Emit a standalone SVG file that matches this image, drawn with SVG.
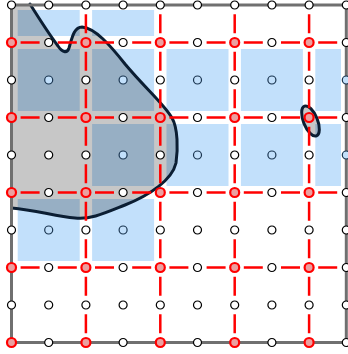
<svg xmlns="http://www.w3.org/2000/svg" width="348" height="354" viewBox="0 0 348 354">
<style>
.sq{fill:#c2e0fb}
.red{stroke:#ff0000;stroke-width:2.5;fill:none}
.rv{stroke-dasharray:19,18.5;stroke-dashoffset:28.25}
.rh{stroke-dasharray:19,18.2;stroke-dashoffset:28.1}
.pt{fill:#ffffff;stroke:#000000;stroke-width:1.2}
.bp{fill:#c2e0fb;stroke:#1a3550;stroke-width:1.2}
.rp{fill:#eba0a0;stroke:#ff0000;stroke-width:2.2}
.curve{fill:none;stroke:#0b1e33;stroke-width:3;stroke-linecap:round}
.shade{fill:#000000;fill-opacity:0.22;stroke:none}
</style>
<defs>
<clipPath id="plot"><rect x="11.5" y="10" width="329.5" height="332.5"/></clipPath>
<g id="w"><circle r="4" class="pt"/></g>
</defs>
<rect width="348" height="354" fill="#ffffff"/>
<g id="squares" clip-path="url(#plot)">
<rect class="sq" x="17.7" y="-26" width="62" height="62"/>
<rect class="sq" x="92.1" y="-26" width="62" height="62"/>
<rect class="sq" x="17.7" y="49" width="62" height="62"/>
<rect class="sq" x="92.1" y="49" width="62" height="62"/>
<rect class="sq" x="166.5" y="49" width="62" height="62"/>
<rect class="sq" x="240.9" y="49" width="62" height="62"/>
<rect class="sq" x="315.3" y="49" width="62" height="62"/>
<rect class="sq" x="92.1" y="124" width="62" height="62"/>
<rect class="sq" x="166.5" y="124" width="62" height="62"/>
<rect class="sq" x="240.9" y="124" width="62" height="62"/>
<rect class="sq" x="315.3" y="124" width="62" height="62"/>
<rect class="sq" x="17.7" y="199" width="62" height="62"/>
<rect class="sq" x="92.1" y="199" width="62" height="62"/>
</g>
<g id="region">
<path class="shade" d="M30 4 C40 20 52 38 58 46 C62 52 67 54 69 48 C72 38 74 27 82 27 C95 28 110 45 125 64 C145 88 165 105 172 118 C178 128 178 150 176 163 C172 180 150 195 125 205 C105 213 90 220 75 218 C55 216 35 210 11.5 208 L11.5 4 Z"/>
<path class="curve" d="M30 4 C40 20 52 38 58 46 C62 52 67 54 69 48 C72 38 74 27 82 27 C95 28 110 45 125 64 C145 88 165 105 172 118 C178 128 178 150 176 163 C172 180 150 195 125 205 C105 213 90 220 75 218 C55 216 35 210 11.5 208"/>
<ellipse class="shade" cx="310.5" cy="121" rx="7" ry="16" transform="rotate(-22 310.5 121)"/>
<ellipse class="curve" cx="310.5" cy="121" rx="7" ry="16" transform="rotate(-22 310.5 121)"/>
</g>
<g id="connectors">
<path class="red rh" d="M11.5 42.5H346.3M11.5 117.5H346.3M11.5 192.5H346.3M11.5 267.5H346.3"/>
<path class="red rv" d="M85.9 5V342.5M160.3 5V342.5M234.7 5V342.5M309.1 5V342.5"/>
<rect x="11.5" y="5" width="334.8" height="337.5" fill="none" stroke="#707070" stroke-width="3"/>
</g>
<g id="points">
<g id="row0"><use href="#w" x="11.5" y="5"/><use href="#w" x="48.7" y="5"/><use href="#w" x="85.9" y="5"/><use href="#w" x="123.1" y="5"/><use href="#w" x="160.3" y="5"/><use href="#w" x="197.5" y="5"/><use href="#w" x="234.7" y="5"/><use href="#w" x="271.9" y="5"/><use href="#w" x="309.1" y="5"/><use href="#w" x="346.3" y="5"/></g>
<g id="row2"><use href="#w" x="11.5" y="80"/><circle class="bp" cx="48.7" cy="80" r="4"/><use href="#w" x="85.9" y="80"/><circle class="bp" cx="123.1" cy="80" r="4"/><use href="#w" x="160.3" y="80"/><circle class="bp" cx="197.5" cy="80" r="4"/><use href="#w" x="234.7" y="80"/><circle class="bp" cx="271.9" cy="80" r="4"/><use href="#w" x="309.1" y="80"/><circle class="bp" cx="346.3" cy="80" r="4"/></g>
<g id="row4"><use href="#w" x="11.5" y="155"/><use href="#w" x="48.7" y="155"/><use href="#w" x="85.9" y="155"/><circle class="bp" cx="123.1" cy="155" r="4"/><use href="#w" x="160.3" y="155"/><circle class="bp" cx="197.5" cy="155" r="4"/><use href="#w" x="234.7" y="155"/><circle class="bp" cx="271.9" cy="155" r="4"/><use href="#w" x="309.1" y="155"/><circle class="bp" cx="346.3" cy="155" r="4"/></g>
<g id="row6"><use href="#w" x="11.5" y="230"/><circle class="bp" cx="48.7" cy="230" r="4"/><use href="#w" x="85.9" y="230"/><circle class="bp" cx="123.1" cy="230" r="4"/><use href="#w" x="160.3" y="230"/><use href="#w" x="197.5" y="230"/><use href="#w" x="234.7" y="230"/><use href="#w" x="271.9" y="230"/><use href="#w" x="309.1" y="230"/><use href="#w" x="346.3" y="230"/></g>
<g id="row8"><use href="#w" x="11.5" y="305"/><use href="#w" x="48.7" y="305"/><use href="#w" x="85.9" y="305"/><use href="#w" x="123.1" y="305"/><use href="#w" x="160.3" y="305"/><use href="#w" x="197.5" y="305"/><use href="#w" x="234.7" y="305"/><use href="#w" x="271.9" y="305"/><use href="#w" x="309.1" y="305"/><use href="#w" x="346.3" y="305"/></g>
<g id="oddrows">
<circle class="rp" cx="11.5" cy="42.5" r="4.5"/><use href="#w" x="48.7" y="42.5"/><circle class="rp" cx="85.9" cy="42.5" r="4.5"/><use href="#w" x="123.1" y="42.5"/><circle class="rp" cx="160.3" cy="42.5" r="4.5"/><use href="#w" x="197.5" y="42.5"/><circle class="rp" cx="234.7" cy="42.5" r="4.5"/><use href="#w" x="271.9" y="42.5"/><circle class="rp" cx="309.1" cy="42.5" r="4.5"/><use href="#w" x="346.3" y="42.5"/>
<circle class="rp" cx="11.5" cy="117.5" r="4.5"/><use href="#w" x="48.7" y="117.5"/><circle class="rp" cx="85.9" cy="117.5" r="4.5"/><use href="#w" x="123.1" y="117.5"/><circle class="rp" cx="160.3" cy="117.5" r="4.5"/><use href="#w" x="197.5" y="117.5"/><circle class="rp" cx="234.7" cy="117.5" r="4.5"/><use href="#w" x="271.9" y="117.5"/><circle class="rp" cx="309.1" cy="117.5" r="4.5"/><use href="#w" x="346.3" y="117.5"/>
<circle class="rp" cx="11.5" cy="192.5" r="4.5"/><use href="#w" x="48.7" y="192.5"/><circle class="rp" cx="85.9" cy="192.5" r="4.5"/><use href="#w" x="123.1" y="192.5"/><circle class="rp" cx="160.3" cy="192.5" r="4.5"/><use href="#w" x="197.5" y="192.5"/><circle class="rp" cx="234.7" cy="192.5" r="4.5"/><use href="#w" x="271.9" y="192.5"/><circle class="rp" cx="309.1" cy="192.5" r="4.5"/><use href="#w" x="346.3" y="192.5"/>
<circle class="rp" cx="11.5" cy="267.5" r="4.5"/><use href="#w" x="48.7" y="267.5"/><circle class="rp" cx="85.9" cy="267.5" r="4.5"/><use href="#w" x="123.1" y="267.5"/><circle class="rp" cx="160.3" cy="267.5" r="4.5"/><use href="#w" x="197.5" y="267.5"/><circle class="rp" cx="234.7" cy="267.5" r="4.5"/><use href="#w" x="271.9" y="267.5"/><circle class="rp" cx="309.1" cy="267.5" r="4.5"/><use href="#w" x="346.3" y="267.5"/>
<circle class="rp" cx="11.5" cy="342.5" r="4.5"/><use href="#w" x="48.7" y="342.5"/><circle class="rp" cx="85.9" cy="342.5" r="4.5"/><use href="#w" x="123.1" y="342.5"/><circle class="rp" cx="160.3" cy="342.5" r="4.5"/><use href="#w" x="197.5" y="342.5"/><circle class="rp" cx="234.7" cy="342.5" r="4.5"/><use href="#w" x="271.9" y="342.5"/><circle class="rp" cx="309.1" cy="342.5" r="4.5"/><use href="#w" x="346.3" y="342.5"/>
</g>
</g>
</svg>
